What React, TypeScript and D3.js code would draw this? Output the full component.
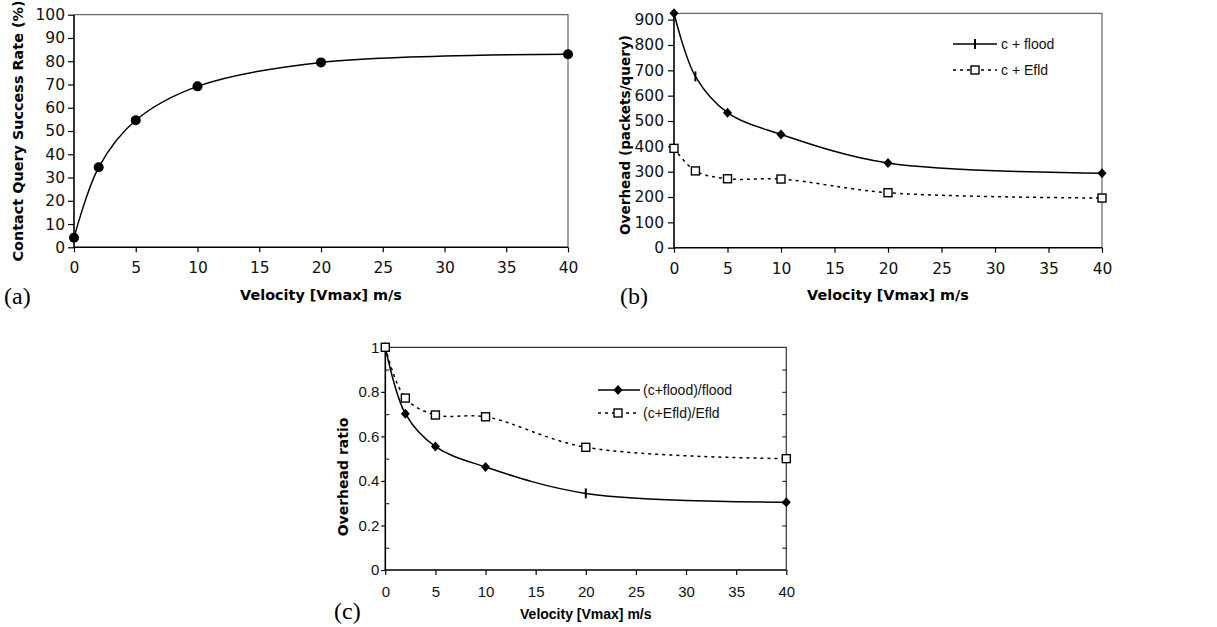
import * as d3 from 'd3';
import { useEffect, useRef } from 'react';

// x positions shared by all three panels
const velocity = [0, 2, 5, 10, 20, 40];
const velocityTicks = [0, 5, 10, 15, 20, 25, 30, 35, 40];

// (a) contact query success rate
const successRate = [4.1, 34.4, 54.6, 69.2, 79.5, 83.0];
const successMarkers = ['circle', 'circle', 'circle', 'circle', 'circle', 'circle'];
const successTicks = [0, 10, 20, 30, 40, 50, 60, 70, 80, 90, 100];

// (b) overhead in packets per query
const floodOverhead = [925, 676, 533, 447, 334, 294];
const floodMarkers = ['diamond', 'tick', 'diamond', 'diamond', 'diamond', 'diamond'];
const efldOverhead = [392, 303, 272, 271, 217, 196];
const efldMarkers = ['square', 'square', 'square', 'square', 'square', 'square'];
const overheadTicks = [0, 100, 200, 300, 400, 500, 600, 700, 800, 900];

// (c) overhead ratio
const floodRatio = [1.0, 0.702, 0.554, 0.4625, 0.344, 0.304];
const floodRatioMarkers = ['diamond', 'diamond', 'diamond', 'diamond', 'tick', 'diamond'];
const efldRatio = [1.0, 0.772, 0.696, 0.688, 0.551, 0.5];
const ratioTicks = [0, 0.2, 0.4, 0.6, 0.8, 1];
const ratioMinorLeft = [0.1, 0.3, 0.5, 0.7, 0.9];
const ratioMinorRight = [0.1, 0.2, 0.3, 0.4, 0.5, 0.6, 0.7, 0.8, 0.9];

const xTitle = 'Velocity [Vmax] m/s';

function drawMarker(g, kind, x, y) {
  if (kind === 'circle') {
    g.append('circle').attr('cx', x).attr('cy', y).attr('r', 5).attr('fill', '#000');
  } else if (kind === 'diamond') {
    g.append('path').attr('d', 'M0,-5L4.5,0L0,5L-4.5,0Z')
      .attr('transform', `translate(${x},${y})`).attr('fill', '#000');
  } else if (kind === 'square') {
    g.append('rect').attr('x', x - 4).attr('y', y - 4).attr('width', 8).attr('height', 8)
      .attr('fill', '#fff').attr('stroke', '#000').attr('stroke-width', 1.4);
  } else if (kind === 'tick') {
    g.append('line').attr('x1', x).attr('x2', x).attr('y1', y - 5).attr('y2', y + 5)
      .attr('stroke', '#000').attr('stroke-width', 2);
  }
}

const App = () => {
  const svgRef = useRef(null);

  useEffect(() => {
    const svg = d3.select(svgRef.current);
    svg.selectAll('*').remove();

    const panels = [
      {
        box: { left: 74, right: 568, top: 14.7, bottom: 247.3 },
        yDomain: [0, 100], yTicks: successTicks,
        tickFont: 'DejaVu Sans', tickSize: 15.5, yTick: 6, yPad: 3, xPad: 10,
        series: [{ values: successRate, markers: successMarkers, dash: null }],
        yTitle: 'Contact Query Success Rate (%)', yTitleFont: 'DejaVu Sans', yTitleSize: 14.4,
        yTitleX: 23, yTitleY: 131,
        xTitleFont: 'DejaVu Sans', xTitleSize: 14.4, xTitleY: 300,
        tag: '(a)', tagX: 4, tagY: 304,
        legend: null, minor: false,
      },
      {
        box: { left: 674, right: 1102, top: 13.3, bottom: 247.7 },
        yDomain: [0, 925], yTicks: overheadTicks,
        tickFont: 'DejaVu Sans', tickSize: 15.5, yTick: 6, yPad: 4, xPad: 10,
        series: [
          { values: floodOverhead, markers: floodMarkers, dash: null },
          { values: efldOverhead, markers: efldMarkers, dash: '3,4' },
        ],
        yTitle: 'Overhead (packets/query)', yTitleFont: 'DejaVu Sans', yTitleSize: 13.6,
        yTitleX: 630, yTitleY: 135,
        xTitleFont: 'DejaVu Sans', xTitleSize: 14.4, xTitleY: 300,
        tag: '(b)', tagX: 620, tagY: 304,
        legend: {
          x1: 953, x2: 997, mx: 975, tx: 1001, y: 44, dy: 26,
          items: [
            { label: 'c + flood', marker: 'tick', dash: null },
            { label: 'c + Efld', marker: 'square', dash: '3,4' },
          ],
        },
        minor: false,
      },
      {
        box: { left: 385.3, right: 786.3, top: 347.3, bottom: 570 },
        yDomain: [0, 1], yTicks: ratioTicks,
        tickFont: 'Liberation Sans', tickSize: 15, yTick: 4, yPad: 2, xPad: 11,
        series: [
          { values: floodRatio, markers: floodRatioMarkers, dash: null },
          { values: efldRatio, markers: efldMarkers, dash: '3,4' },
        ],
        yTitle: 'Overhead ratio', yTitleFont: 'DejaVu Sans', yTitleSize: 14,
        yTitleX: 348, yTitleY: 477,
        xTitleFont: 'Liberation Sans', xTitleSize: 14, xTitleY: 619,
        tag: '(c)', tagX: 334, tagY: 619,
        legend: {
          x1: 598, x2: 640, mx: 618, tx: 643, y: 390, dy: 23,
          items: [
            { label: '(c+flood)/flood', marker: 'diamond', dash: null },
            { label: '(c+Efld)/Efld', marker: 'square', dash: '3,4' },
          ],
        },
        minor: true,
      },
    ];

    panels.forEach(p => {
      const { left, right, top, bottom } = p.box;
      const x = d3.scaleLinear().domain([0, 40]).range([left, right]);
      const y = d3.scaleLinear().domain(p.yDomain).range([bottom, top]);
      const g = svg.append('g');

      // frame: top and right in grey
      g.append('path').attr('d', `M${left},${top}H${right}V${bottom}`)
        .attr('fill', 'none').attr('stroke', p.minor ? '#333' : '#666').attr('stroke-width', 1.2);

      const yAxis = g.append('g').attr('transform', `translate(${left},0)`)
        .call(d3.axisLeft(y).tickValues(p.yTicks).tickSize(p.yTick).tickPadding(p.yPad).tickFormat(d => String(d)));
      const xAxis = g.append('g').attr('transform', `translate(0,${bottom})`)
        .call(d3.axisBottom(x).tickValues(velocityTicks).tickSize(5).tickPadding(p.xPad).tickFormat(d => String(d)));
      [yAxis, xAxis].forEach(a => {
        a.attr('font-family', p.tickFont).attr('font-size', p.tickSize);
        a.select('.domain').remove();
        a.selectAll('line').attr('stroke', '#000').attr('stroke-width', 1.2);
        a.selectAll('text').attr('fill', '#111');
      });

      if (p.minor) {
        const inL = g.append('g').attr('transform', `translate(${left},0)`)
          .call(d3.axisRight(y).tickValues(ratioMinorLeft).tickSize(4).tickFormat(() => ''));
        const inR = g.append('g').attr('transform', `translate(${right},0)`)
          .call(d3.axisLeft(y).tickValues(ratioMinorRight).tickSize(4).tickFormat(() => ''));
        [inL, inR].forEach(a => {
          a.select('.domain').remove();
          a.selectAll('line').attr('stroke', '#222').attr('stroke-width', 1.1);
        });
      }

      // left and bottom axis lines
      g.append('path').attr('d', `M${left},${top}V${bottom}H${right}`)
        .attr('fill', 'none').attr('stroke', '#000').attr('stroke-width', 1.6);

      const line = d3.line().x((d, i) => x(velocity[i])).y(d => y(d)).curve(d3.curveCatmullRom.alpha(0.5));
      p.series.forEach(s => {
        g.append('path').attr('d', line(s.values)).attr('fill', 'none')
          .attr('stroke', '#000').attr('stroke-width', 1.5)
          .attr('stroke-dasharray', s.dash);
      });
      p.series.forEach(s => {
        s.values.forEach((v, i) => drawMarker(g, s.markers[i], x(velocity[i]), y(v)));
      });

      if (p.legend) {
        const L = p.legend;
        L.items.forEach((it, i) => {
          const ly = L.y + i * L.dy;
          g.append('line').attr('x1', L.x1).attr('x2', L.x2).attr('y1', ly).attr('y2', ly)
            .attr('stroke', '#000').attr('stroke-width', 1.5).attr('stroke-dasharray', it.dash);
          drawMarker(g, it.marker, L.mx, ly);
          g.append('text').attr('x', L.tx).attr('y', ly).attr('dy', '0.35em')
            .attr('font-family', 'Liberation Sans').attr('font-size', 14).attr('fill', '#111')
            .text(it.label);
        });
      }

      g.append('text').attr('x', (left + right) / 2).attr('y', p.xTitleY)
        .attr('text-anchor', 'middle').attr('font-family', p.xTitleFont)
        .attr('font-size', p.xTitleSize).attr('font-weight', 'bold').text(xTitle);

      g.append('text').attr('transform', `translate(${p.yTitleX},${p.yTitleY}) rotate(-90)`)
        .attr('text-anchor', 'middle').attr('font-family', p.yTitleFont)
        .attr('font-size', p.yTitleSize).attr('font-weight', 'bold').text(p.yTitle);

      g.append('text').attr('x', p.tagX).attr('y', p.tagY)
        .attr('font-family', 'Liberation Serif').attr('font-size', 24).text(p.tag);
    });
  }, []);

  return (
    <svg ref={svgRef} width={1217} height={627} viewBox="0 0 1217 627"
      style={{ position: 'absolute', left: 0, top: 0, background: '#fff' }} />
  );
};

export default App;
